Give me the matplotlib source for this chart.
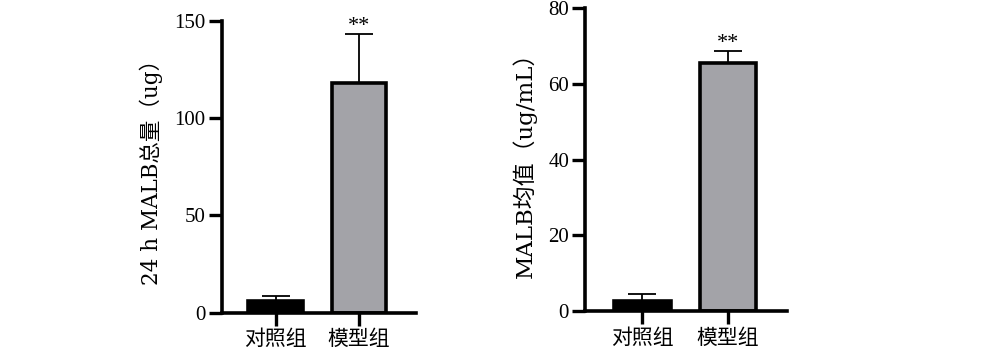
import matplotlib
matplotlib.use("Agg")
import matplotlib.pyplot as plt

plt.rcParams["font.family"] = ["Liberation Serif", "Noto Sans CJK SC"]
LABEL_FONT = ["DejaVu Serif", "Noto Sans CJK SC"]

# data
groups = ["对照组", "模型组"]
total_means = [6.0, 118.3]
total_err = [2.6, 24.9]
conc_means = [2.6, 65.6]
conc_err = [1.8, 3.1]
stars = ["", "**"]

bar_colors = ["#000000", "#A3A3A8"]


def draw_panel(ax, means, errs, ymax, yticks, ylabel, xlim, label_size, pad):
    x = list(range(len(groups)))
    ax.bar(x, means, width=0.66, color=bar_colors, edgecolor="black",
           linewidth=2.6, zorder=2)
    ax.errorbar(x, means, yerr=[[0] * len(errs), errs], fmt="none",
                ecolor="black", elinewidth=1.3, capsize=10, capthick=1.3,
                zorder=1)
    for xi, m, e, s in zip(x, means, errs, stars):
        if s:
            ax.text(xi, m + e - ymax * 0.005, s, ha="center", va="bottom",
                    fontsize=16)
    ax.set_ylim(0, ymax)
    ax.set_xlim(*xlim)
    ax.set_yticks(yticks)
    ax.set_xticks(x)
    ax.set_xticklabels(groups, fontsize=15)
    ax.tick_params(axis="y", labelsize=15, width=2.4, length=9.5, pad=2)
    ax.tick_params(axis="x", width=2.4, length=9, pad=4)
    ax.set_ylabel(ylabel, fontsize=label_size, family=LABEL_FONT,
                  labelpad=pad)
    for side in ["top", "right"]:
        ax.spines[side].set_visible(False)
    for side in ["left", "bottom"]:
        ax.spines[side].set_linewidth(2.6)


fig = plt.figure(figsize=(9.99, 3.63), dpi=100)
ax1 = fig.add_axes([0.2219, 0.1386, 0.1945, 0.8035])
ax2 = fig.add_axes([0.5856, 0.1433, 0.2019, 0.8337])

draw_panel(ax1, total_means, total_err, 150, [0, 50, 100, 150],
           "24 h MALB总量（ug）", (-0.65, 1.685), 15.5, 8)
draw_panel(ax2, conc_means, conc_err, 80, [0, 20, 40, 60, 80],
           "MALB均值（ug/mL）", (-0.672, 1.686), 16.5, 8)

fig.savefig("out.png", dpi=100)
